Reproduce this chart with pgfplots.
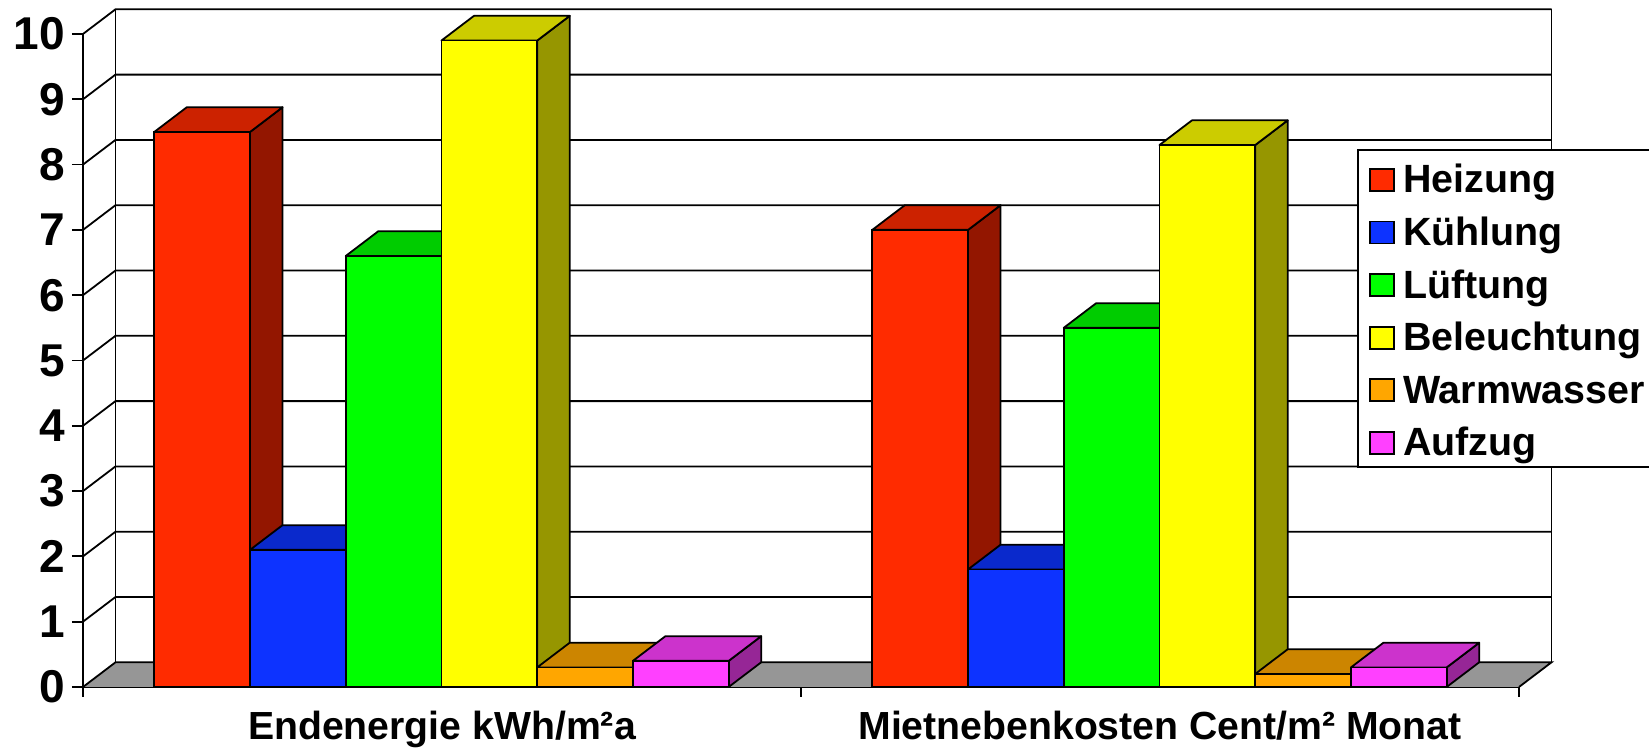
\documentclass[border=0pt]{standalone}
\usepackage{fontspec}
\setmainfont{Liberation Sans}
\usepackage{pgfplots}
\pgfplotsset{compat=1.18}
% 1 reference pixel = 0.5pt
\definecolor{cRed}{HTML}{FF2B00}\definecolor{cRedT}{HTML}{CC2200}\definecolor{cRedS}{HTML}{931600}
\definecolor{cBlue}{HTML}{0D33FF}\definecolor{cBlueT}{HTML}{0A29CC}\definecolor{cBlueS}{HTML}{081F99}
\definecolor{cGreen}{HTML}{00FF00}\definecolor{cGreenT}{HTML}{00CC00}\definecolor{cGreenS}{HTML}{009900}
\definecolor{cYel}{HTML}{FFFF00}\definecolor{cYelT}{HTML}{CCCC00}\definecolor{cYelS}{HTML}{969600}
\definecolor{cOra}{HTML}{FFA600}\definecolor{cOraT}{HTML}{CC8500}\definecolor{cOraS}{HTML}{996400}
\definecolor{cMag}{HTML}{FF40FF}\definecolor{cMagT}{HTML}{CC33CC}\definecolor{cMagS}{HTML}{962696}
\definecolor{cFloor}{HTML}{969696}
\def\ddx{0.04526}
\def\ddy{0.378}
\def\hw{0.0667}
% side and top face of one bar: centre, value, top colour, side colour
\newcommand{\faces}[4]{%
  \pgfmathsetmacro{\xa}{#1-\hw}\pgfmathsetmacro{\xb}{#1+\hw}%
  \pgfmathsetmacro{\xc}{#1+\hw+\ddx}\pgfmathsetmacro{\xd}{#1-\hw+\ddx}%
  \pgfmathsetmacro{\vt}{#2+\ddy}%
  \addplot[forget plot,fill=#4,draw=black,line width=0.9pt,line join=round] coordinates {(\xb,0) (\xc,\ddy) (\xc,\vt) (\xb,#2)} -- cycle;
  \addplot[forget plot,fill=#3,draw=black,line width=0.9pt,line join=round] coordinates {(\xa,#2) (\xb,#2) (\xc,\vt) (\xd,\vt)} -- cycle;
}
\newcommand{\lab}[1]{\hspace*{4.2pt}\makebox[132pt][l]{#1}}
\pgfplotsset{
  swatch/.style={legend image code/.code={\draw[##1,line width=0.9pt] (0pt,-7pt) rectangle (12pt,4pt);}},
  front/.style={ybar,bar shift=0pt,bar width=0.1333,draw=black,line width=0.9pt,fill=#1,swatch},
}
\begin{document}
\begin{tikzpicture}
\useasboundingbox (-41.5pt,-30.5pt) rectangle (783pt,343.5pt);
\begin{axis}[
  at={(0pt,0pt)},anchor=south west,
  scale only axis,width=718pt,height=326.5pt,
  xmin=0,xmax=2,ymin=0,ymax=10,clip=false,
  axis x line=bottom,axis y line=left,
  axis line style={-,line width=0.9pt},
  every tick/.style={black,line width=0.9pt},
  tick align=outside,
  xtick={0.5,1.5},xticklabels={Endenergie kWh/m²a,Mietnebenkosten Cent/m² Monat},
  major x tick style={draw=none},
  minor xtick={0,1,2},minor tick length=5pt,
  ytick={0,1,...,10},major tick length=5.5pt,
  /pgf/number format/assume math mode=true,
  xticklabel style={font=\bfseries\fontsize{19.6}{23}\selectfont,anchor=base,yshift=-21pt},
  yticklabel style={font=\bfseries\fontsize{23}{26}\selectfont},
  legend style={at={(0.8872,0.8239)},anchor=north west,draw=black,line width=0.9pt,
    font=\bfseries\fontsize{19.7}{23}\selectfont,
    inner xsep=5.5pt,inner ysep=2.2pt,row sep=3.65pt,
    nodes={text height=19.3pt,text depth=3.35pt,inner sep=0pt},
    /tikz/column 2/.style={column sep=6pt}},
  legend cell align=left,
]
% back wall, side wall and floor
\fill[cFloor] (axis cs:0,0) -- (axis cs:2,0) -- (axis cs:2.04526,0.378) -- (axis cs:0.04526,0.378) -- cycle;
\foreach \v in {1,...,10}{
  \edef\tmp{\noexpand\draw[line width=0.9pt] (axis cs:0,\v) -- (axis cs:0.04526,\v+0.378) -- (axis cs:2.04526,\v+0.378);}\tmp
}
\draw[line width=0.9pt] (axis cs:0,0) -- (axis cs:0.04526,0.378) -- (axis cs:2.04526,0.378) -- (axis cs:2,0);
\draw[line width=0.9pt] (axis cs:0.04526,0.378) -- (axis cs:0.04526,10.378);
\draw[line width=0.9pt] (axis cs:2.04526,0.378) -- (axis cs:2.04526,10.378);

\faces{0.1660}{8.5}{cRedT}{cRedS}\faces{1.1660}{7.0}{cRedT}{cRedS}
\addplot[front=cRed] coordinates {(0.1660,8.5) (1.1660,7.0)};
\addlegendentry{\lab{Heizung}}

\faces{0.2993}{2.1}{cBlueT}{cBlueS}\faces{1.2993}{1.8}{cBlueT}{cBlueS}
\addplot[front=cBlue] coordinates {(0.2993,2.1) (1.2993,1.8)};
\addlegendentry{\lab{Kühlung}}

\faces{0.4326}{6.6}{cGreenT}{cGreenS}\faces{1.4326}{5.5}{cGreenT}{cGreenS}
\addplot[front=cGreen] coordinates {(0.4326,6.6) (1.4326,5.5)};
\addlegendentry{\lab{Lüftung}}

\faces{0.5660}{9.9}{cYelT}{cYelS}\faces{1.5660}{8.3}{cYelT}{cYelS}
\addplot[front=cYel] coordinates {(0.5660,9.9) (1.5660,8.3)};
\addlegendentry{\lab{Beleuchtung}}

\faces{0.6993}{0.3}{cOraT}{cOraS}\faces{1.6993}{0.2}{cOraT}{cOraS}
\addplot[front=cOra] coordinates {(0.6993,0.3) (1.6993,0.2)};
\addlegendentry{\lab{Warmwasser}}

\faces{0.8326}{0.4}{cMagT}{cMagS}\faces{1.8326}{0.3}{cMagT}{cMagS}
\addplot[front=cMag] coordinates {(0.8326,0.4) (1.8326,0.3)};
\addlegendentry{\lab{Aufzug}}
\end{axis}
\end{tikzpicture}
\end{document}
